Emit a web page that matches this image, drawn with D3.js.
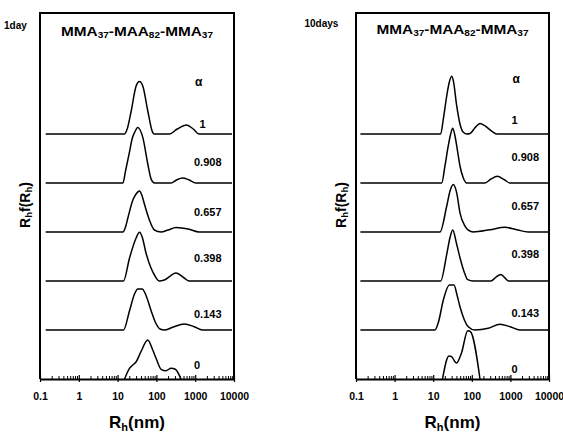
<!DOCTYPE html>
<html>
<head>
<meta charset="utf-8">
<script src="https://cdn.jsdelivr.net/npm/d3@7"></script>
<style>
  body { margin: 0; background: #fff; }
  svg { display: block; }
  text { font-family: "Liberation Sans", Arial, sans-serif; font-weight: bold; fill: #000; }
</style>
</head>
<body>
<svg id="chart" width="563" height="432"></svg>
<script>
// alpha values, bottom curve first
const alphaLabels = ["0", "0.143", "0.398", "0.657", "0.908", "1"];
const tickValues = [0.1, 1, 10, 100, 1000, 10000];
const tickLabels = ["0.1", "1", "10", "100", "1000", "10000"];
const panelLabels = ["1day", "10days"];

// [Rh (nm), Rh f(Rh) in a.u.]
// 1 day
const day1A0 = [[15.1, 0], [20.3, 10.7], [24.7, 14], [30.1, 17.3], [40, 27.3], [59.8, 39], [80.5, 29], [98, 20.7], [132, 9.7], [177, 8.3], [238, 10.7], [307, 9.7], [430, 0]];
const day1A143 = [[0.14, 0], [14.2, 0], [20.3, 19.3], [27.3, 36], [33.2, 41], [43, 41], [54.4, 34.3], [73, 19.3], [94, 7.7], [124, 1], [160, 0], [262, 2.7], [522, 6], [942, 3.3], [1540, 0], [8900, 0]];
const day1A398 = [[0.14, 0], [14.2, 0], [20.3, 23], [30, 43], [36.6, 48.7], [43, 44], [54, 28], [73, 12.7], [89, 6], [119, 0], [160, 1], [320, 8], [520, 3], [700, 0], [8900, 0]];
const day1A657 = [[0.14, 0], [13.7, 0], [16, 5], [18.4, 14], [24.7, 32], [30, 38], [36.6, 41], [42, 37], [49, 28], [66, 12], [89, 2], [132, 0], [200, 2], [320, 4.5], [700, 2.7], [1260, 0], [8900, 0]];
const day1A908 = [[0.14, 0], [13.7, 0], [16, 12], [20, 30], [24, 45], [27, 50], [33, 55.6], [44.6, 45.6], [60, 19], [73, 4], [89, 0], [238, 0], [330, 3], [472, 5], [700, 3], [1040, 0], [8900, 0]];
const day1A1 = [[0.14, 0], [15, 0], [18, 6], [22.4, 23], [30, 48], [36.6, 52.6], [44.6, 48], [60, 23], [80, 1.6], [88, 0], [215, 0], [345, 5], [600, 9], [890, 5], [1260, 0], [8900, 0]];

// 10 days
const day10A0 = [[17.4, 0], [25.6, 23], [29.8, 22.3], [40.2, 16], [54.1, 26], [78.3, 48.3], [92.5, 47.3], [163, 0]];
const day10A143 = [[0.13, 0], [11.1, 0], [13.7, 8], [18.3, 30], [26.2, 45], [34.6, 45], [41.4, 35], [49.4, 23.3], [81, 3.3], [121, 0], [267, 1.7], [538, 5.7], [977, 3.3], [1775, 0], [10000, 0]];
const day10A398 = [[0.13, 0], [15.6, 0], [22.4, 26.7], [27.2, 43.3], [32, 51], [40.6, 36.7], [49.4, 23.3], [66.7, 6.7], [76.4, 1.7], [110, 0], [310, 0], [424, 3.8], [561, 6.5], [720, 3.2], [900, 0], [10000, 0]];
const day10A657 = [[0.13, 0], [15, 0], [22.4, 26], [27.2, 40.8], [33.2, 47.5], [40.6, 39.2], [49.4, 19.2], [66.7, 5.8], [81, 1.8], [110, 0], [296, 2.3], [724, 4.7], [1455, 2.3], [2910, 0], [10000, 0]];
const day10A908 = [[0.13, 0], [16.6, 0], [20.2, 17.3], [24.6, 37.3], [28.4, 49], [32, 54.7], [36.7, 47], [42.7, 32], [49.4, 17], [60.3, 5], [74, 0], [220, 0], [314, 4], [458, 6.7], [682, 3.5], [977, 0], [10000, 0]];
const day10A1 = [[0.13, 0], [15.6, 0], [18.3, 15], [23.2, 41.7], [26.1, 51.7], [30.1, 57.7], [33.2, 53.3], [40.6, 28.3], [49.4, 10], [60.3, 1.7], [75, 0], [90, 0.5], [121, 6.2], [163, 10.5], [220, 8.2], [327, 2.8], [441, 0], [10000, 0]];

const day1Curves = [day1A0, day1A143, day1A398, day1A657, day1A908, day1A1];
const day10Curves = [day10A0, day10A143, day10A398, day10A657, day10A908, day10A1];

const svg = d3.select("#chart");
const plotTop = 13, plotBottom = 379;
const step = 49; // vertical offset between stacked curves (a.u.)

const panels = [
  {
    curves: day1Curves, label: panelLabels[0], x0: 40, x1: 234,
    labelPos: [4, 28.5], titleY: 35.7, alphaY: 86,
    alphaX: 194, alphaDx: [0, 0, 0, 0, 0, 5.5],
    alphaLift: [9.7, 12, 19, 15.7, 17, 5.8]
  },
  {
    curves: day10Curves, label: panelLabels[1], x0: 356, x1: 549,
    labelPos: [304.5, 26.5], titleY: 33.7, alphaY: 83,
    alphaX: 511.5, alphaDx: [0, 0, 0, 0, 0, 0],
    alphaLift: [5.7, 13.3, 23.3, 22.5, 22.3, 10.5]
  }
];

panels.forEach(p => {
  const g = svg.append("g");

  const x = d3.scaleLog().domain([0.1, 10000]).range([p.x0, p.x1]);
  const y = d3.scaleLinear().domain([0, plotBottom - plotTop]).range([plotBottom, plotTop]);

  // curves, each lifted by its stack offset
  const line = d3.line()
    .x(d => x(d[0]))
    .y(d => y(d[2] + d[1]))
    .curve(d3.curveMonotoneX);

  p.curves.forEach((c, i) => {
    g.append("path")
      .datum(c.map(d => [d[0], d[1], i * step]))
      .attr("fill", "none")
      .attr("stroke", "#000")
      .attr("stroke-width", 1.5)
      .attr("stroke-linejoin", "round")
      .attr("d", line);

    g.append("text")
      .attr("x", p.alphaX + p.alphaDx[i])
      .attr("y", y(i * step) - p.alphaLift[i])
      .style("font-size", "11px")
      .text(alphaLabels[i]);
  });

  // frame: left, top, right
  g.append("path")
    .attr("d", `M${p.x0},${plotBottom}V${plotTop}H${p.x1}V${plotBottom}`)
    .attr("fill", "none")
    .attr("stroke", "#000")
    .attr("stroke-width", 2);

  // minor ticks, pointing inward
  const minors = [];
  for (let e = -1; e < 4; e++) {
    for (let m = 2; m < 10; m++) minors.push(m * Math.pow(10, e));
  }
  g.append("g")
    .attr("transform", `translate(0,${plotBottom})`)
    .call(d3.axisBottom(x).tickValues(minors).tickSize(-3).tickFormat(""))
    .call(a => a.select(".domain").remove())
    .call(a => a.selectAll("line").attr("stroke-width", 1));

  // major ticks and labels
  g.append("g")
    .attr("transform", `translate(0,${plotBottom})`)
    .call(d3.axisBottom(x).tickValues(tickValues).tickSizeInner(3).tickSizeOuter(0).tickPadding(11)
      .tickFormat((d, i) => tickLabels[i]))
    .call(a => a.select(".domain").attr("stroke-width", 2))
    .call(a => a.selectAll(".tick line").attr("y1", -4).attr("stroke-width", 1.2))
    .call(a => a.selectAll("text")
      .attr("fill", "#000")
      .style("font-family", "'Liberation Sans', Arial, sans-serif")
      .style("font-weight", "bold")
      .style("font-size", "10.5px"));

  // panel tag
  g.append("text")
    .attr("x", p.labelPos[0])
    .attr("y", p.labelPos[1])
    .style("font-size", "10px")
    .text(p.label);

  // title inside frame
  const title = g.append("text")
    .attr("x", (p.x0 + p.x1) / 2)
    .attr("y", p.titleY)
    .attr("text-anchor", "middle")
    .attr("textLength", 152)
    .attr("lengthAdjust", "spacingAndGlyphs")
    .style("font-size", "13px");
  [["MMA", false], ["37", true], ["-MAA", false], ["82", true], ["-MMA", false], ["37", true]]
    .forEach(([t, sub], k) => {
      title.append("tspan")
        .attr("dy", sub ? 2 : (k === 0 ? 0 : -2))
        .style("font-size", sub ? "8.5px" : null)
        .text(t);
    });

  // alpha header
  g.append("text")
    .attr("x", p.alphaX + 1)
    .attr("y", p.alphaY)
    .style("font-size", "12px")
    .text("α");

  // x axis title
  const xt = g.append("text")
    .attr("x", (p.x0 + p.x1) / 2)
    .attr("y", 427.5)
    .attr("text-anchor", "middle")
    .style("font-size", "17px");
  xt.append("tspan").text("R");
  xt.append("tspan").attr("dy", 3).style("font-size", "11px").text("h");
  xt.append("tspan").attr("dy", -3).text("(nm)");

  // y axis title
  const yt = g.append("text")
    .attr("transform", `translate(${p.x0 - 10.5},205) rotate(-90)`)
    .attr("text-anchor", "middle")
    .style("font-size", "14px");
  yt.append("tspan").text("R");
  yt.append("tspan").attr("dy", 2.5).style("font-size", "9.5px").text("h");
  yt.append("tspan").attr("dy", -2.5).text("f(R");
  yt.append("tspan").attr("dy", 2.5).style("font-size", "9.5px").text("h");
  yt.append("tspan").attr("dy", -2.5).text(")");
});
</script>
</body>
</html>
